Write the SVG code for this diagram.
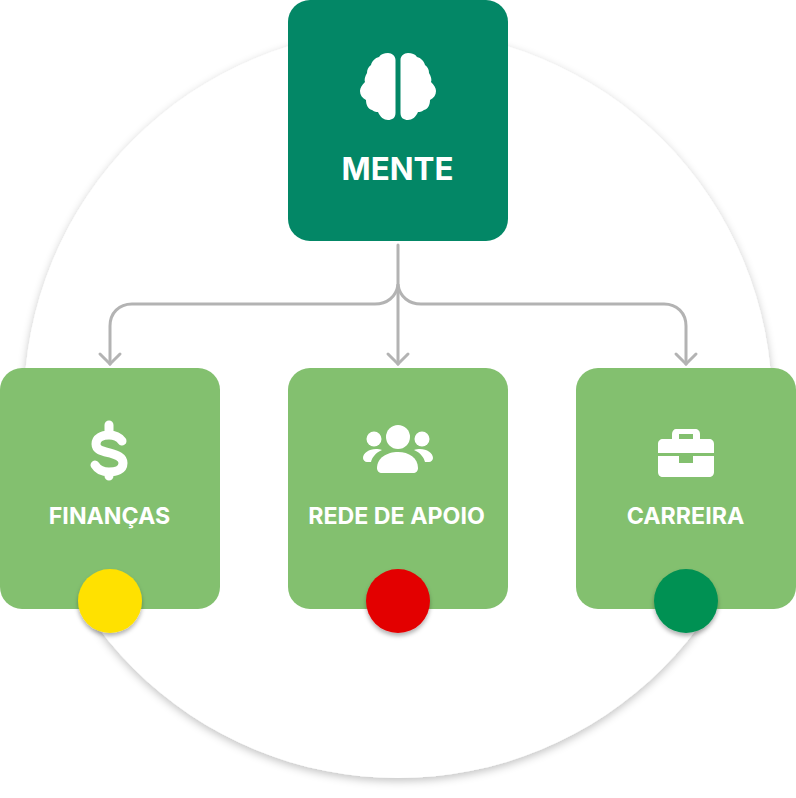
<svg xmlns="http://www.w3.org/2000/svg" width="796" height="798" viewBox="0 0 796 798">
<defs>
<filter id="ringShadow" x="-10%" y="-10%" width="120%" height="120%"><feDropShadow dx="0" dy="3" stdDeviation="4" flood-color="#000" flood-opacity="0.24"/></filter>
<filter id="dotShadow" x="-30%" y="-30%" width="160%" height="160%"><feDropShadow dx="0" dy="3" stdDeviation="2" flood-color="#000" flood-opacity="0.3"/></filter>
<marker id="arrow" markerUnits="userSpaceOnUse" markerWidth="18" markerHeight="26" refX="13" refY="13" orient="auto" viewBox="0 0 18 26"><path d="M3 3 L13 13 L3 23" fill="none" stroke="#b3b3b3" stroke-width="3" stroke-linecap="round"/></marker>
</defs>
<style>
.big{fill:#038766}
.card{fill:#83c06f}
.ic{fill:#fff}
.lb{fill:#fff;font-family:Inter,"Liberation Sans",sans-serif;font-weight:700;text-anchor:middle}
.cn{fill:none;stroke:#b3b3b3;stroke-width:3;stroke-linecap:round}
.st{fill:none;stroke:#fff;stroke-linecap:round;stroke-linejoin:round}
</style>
<rect width="796" height="798" fill="#fff"/>
<circle id="ring" cx="398" cy="404" r="374" fill="#fff" filter="url(#ringShadow)"/>
<g id="connectors">
<path class="cn" d="M398 245V288"/>
<path class="cn" d="M398 288V364" marker-end="url(#arrow)"/>
<path class="cn" d="M398 285C396 297 387 304 375 304H132C119 304 110 313 110 326V364" marker-end="url(#arrow)"/>
<path class="cn" d="M398 285C400 297 409 304 421 304H664C677 304 686 313 686 326V364" marker-end="url(#arrow)"/>
</g>
<g id="mente">
<rect class="big" x="288" y="0" width="220" height="241" rx="22"/>
<path class="ic" d="M395.500 60C395.500 56 392 53 388 53C384 53 381 54 379 57C375 58 372 61 371 65C368 67 367 70 367 73C365 76 364 80 365 82C362 85 360 88 360 91C360 95 362 98 366 100C366 105 368 109 372 110C375 112 376 112 378 112C380 117 384 120 388 120C392 120 395.500 118 395.500 113Z"/>
<path class="ic" d="M400.500 60C400.500 56 404 53 408 53C412 53 415 54 417 57C421 58 424 61 425 65C428 67 429 70 429 73C431 76 432 80 431 82C434 85 436 88 436 91C436 95 434 98 430 100C430 105 428 109 424 110C421 112 420 112 418 112C416 117 412 120 408 120C404 120 400.500 118 400.500 113Z"/>
<text class="lb" x="397.500" y="180" font-size="31.300">MENTE</text>
</g>
<g id="financas">
<rect class="card" x="0" y="368" width="220" height="241" rx="22"/>
<path class="st" stroke-width="9" d="M109 425V431M109 472V476M122 441C119 437 114 435 109 435C102 435 96 438 96 444C96 450 102 451 110 453C117 455 123 457 123 463C123 470 116 472 109 472C103 472 98 470 95 465"/>
<text class="lb" x="109.500" y="524" font-size="23.200">FINANÇAS</text>
</g>
<g id="rede">
<rect class="card" x="288" y="368" width="220" height="241" rx="22"/>
<g class="ic">
<circle cx="398" cy="437" r="12"/>
<circle cx="374" cy="439" r="7.500"/>
<circle cx="422" cy="439" r="7.500"/>
<path d="M377 468C377 458 387 452 398 452C409 452 418 458 418 468C418 471 416 473 413 473H382C379 473 377 471 377 468Z"/>
<path d="M382 450C375 453 372 458 371 462H367C365 462 363 460 363 458C363 453 369 449 376 449C378 449 380 449 382 450Z"/>
<path d="M414 450C421 453 424 458 425 462H429C431 462 433 460 433 458C433 453 427 449 420 449C418 449 416 449 414 450Z"/>
</g>
<text class="lb" x="396.500" y="524" font-size="23.200">REDE DE APOIO</text>
</g>
<g id="carreira">
<rect class="card" x="576" y="368" width="220" height="241" rx="22"/>
<path class="ic" fill-rule="evenodd" d="M676 429H695C698 429 700 431 700 434V439H709C712 439 714 441 714 444V453H658V444C658 441 660 439 663 439H672V434C672 431 674 429 676 429ZM679 434V439H693V434Z"/>
<path class="ic" d="M658 456H679V463H693V456H714V472C714 475 712 477 709 477H663C660 477 658 475 658 472Z"/>
<text class="lb" x="685.500" y="524" font-size="23.200">CARREIRA</text>
</g>
<circle id="status-yellow" cx="110" cy="601" r="32" fill="#ffe100" filter="url(#dotShadow)"/>
<circle id="status-red" cx="398" cy="601" r="32" fill="#e30000" filter="url(#dotShadow)"/>
<circle id="status-green" cx="686" cy="601" r="32" fill="#029152" filter="url(#dotShadow)"/>
</svg>
